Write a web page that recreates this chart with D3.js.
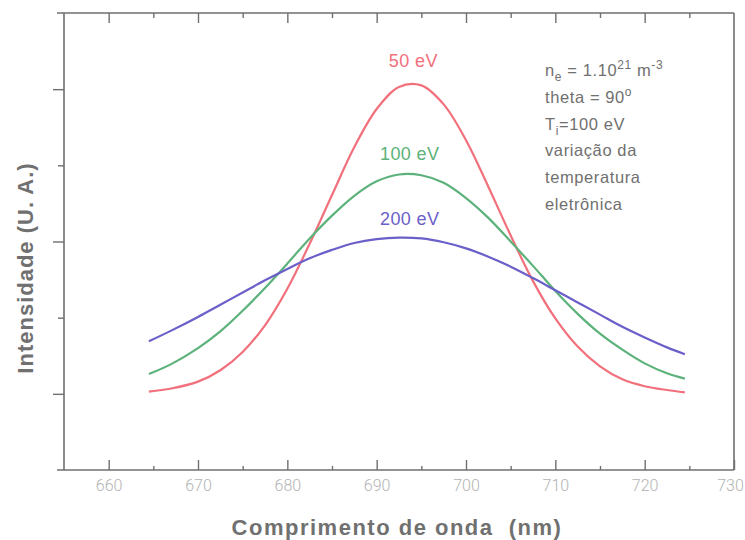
<!DOCTYPE html>
<html>
<head>
<meta charset="utf-8">
<script src="https://cdn.jsdelivr.net/npm/d3@7"></script>
<style>
  html, body { margin: 0; padding: 0; background: #fff; }
  svg { display: block; }
</style>
</head>
<body>
<svg id="chart" width="745" height="540"></svg>
<script>
// ---- data ----
const wavelength = [664.5, 667, 670, 672.5, 675, 677.5, 680, 682.5, 685, 687.5, 690, 692.5, 695,
                    697.5, 700, 702.5, 705, 707.5, 710, 712.5, 715, 717.5, 720, 722.5, 724.5];
const te50  = [1.03, 1.07, 1.16, 1.31, 1.55, 1.90, 2.38, 2.97, 3.61, 4.24, 4.74, 5.03, 5.05,
               4.80, 4.33, 3.72, 3.08, 2.48, 1.99, 1.62, 1.36, 1.19, 1.10, 1.05, 1.02];
const te100 = [1.26, 1.39, 1.60, 1.82, 2.09, 2.39, 2.71, 3.04, 3.34, 3.60, 3.79, 3.88, 3.87,
               3.77, 3.57, 3.31, 3.00, 2.68, 2.35, 2.05, 1.79, 1.58, 1.40, 1.27, 1.20];
const te200 = [1.69, 1.83, 2.01, 2.17, 2.33, 2.49, 2.64, 2.78, 2.89, 2.98, 3.03, 3.05, 3.04,
               2.99, 2.91, 2.80, 2.67, 2.52, 2.36, 2.20, 2.04, 1.88, 1.74, 1.61, 1.52];
const seriesNames = ["50 eV", "100 eV", "200 eV"];
const xMajorTicks = [660, 670, 680, 690, 700, 710, 720, 730];
const xMinorTicks = [665, 675, 685, 695, 705, 715, 725];
const yMajorTicks = [1, 3, 5];
const yMinorTicks = [2, 4];
const xDomain = [655, 730];
const yDomain = [0, 6];
const noteLines = ["variação da", "temperatura", "eletrônica"];

// ---- layout ----
const svg = d3.select("#chart");
const L = 64, R = 734, T = 13, B = 470;
const x = d3.scaleLinear().domain(xDomain).range([L, R]);
const y = d3.scaleLinear().domain(yDomain).range([B, T]);
const axisColor = "#6f6f6f";
const colors = ["#f2707c", "#5cb27a", "#6b5fc9"];

// frame
const frame = svg.append("g").attr("stroke", axisColor).attr("stroke-width", 1.6).attr("fill", "none");
frame.append("line").attr("x1", x.range()[0] - 7).attr("x2", x.range()[1]).attr("y1", y.range()[0]).attr("y2", y.range()[0]);
frame.append("line").attr("x1", x.range()[0] - 7).attr("x2", x.range()[1]).attr("y1", y.range()[1]).attr("y2", y.range()[1]);
frame.append("line").attr("x1", x.range()[0]).attr("x2", x.range()[0]).attr("y1", y.range()[0]).attr("y2", y.range()[1]);
frame.append("line").attr("x1", x.range()[1]).attr("x2", x.range()[1]).attr("y1", y.range()[0]).attr("y2", y.range()[1]);

function styleAxis(g) {
  g.select(".domain").remove();
  g.selectAll(".tick line").attr("stroke", axisColor).attr("stroke-width", 1.4);
}

// bottom axis (ticks inward)
svg.append("g").attr("transform", `translate(0,${B})`)
  .call(d3.axisBottom(x).tickValues(xMajorTicks).tickSizeInner(-10).tickSizeOuter(0).tickPadding(10).tickFormat(d3.format("d")))
  .call(styleAxis)
  .call(g => g.selectAll(".tick text")
    .attr("fill", "#b3b3b3").attr("font-family", "Roboto, 'Liberation Sans', sans-serif")
    .attr("font-weight", 300).attr("font-size", 16)
    .attr("dx", d => d === xDomain[1] ? -4 : 0));
svg.append("g").attr("transform", `translate(0,${B})`)
  .call(d3.axisBottom(x).tickValues(xMinorTicks).tickSizeInner(-4).tickSizeOuter(0).tickFormat(""))
  .call(styleAxis);

// top axis (ticks inward)
svg.append("g").attr("transform", `translate(0,${T})`)
  .call(d3.axisTop(x).tickValues(xMajorTicks.filter(d => d < 730)).tickSizeInner(-10).tickSizeOuter(0).tickFormat(""))
  .call(styleAxis);
svg.append("g").attr("transform", `translate(0,${T})`)
  .call(d3.axisTop(x).tickValues(xMinorTicks).tickSizeInner(-5).tickSizeOuter(0).tickFormat(""))
  .call(styleAxis);

// left axis (ticks outward, no labels)
svg.append("g").attr("transform", `translate(${L},0)`)
  .call(d3.axisLeft(y).tickValues(yMajorTicks).tickSizeInner(11).tickSizeOuter(0).tickFormat(""))
  .call(styleAxis);
svg.append("g").attr("transform", `translate(${L},0)`)
  .call(d3.axisLeft(y).tickValues(yMinorTicks).tickSizeInner(6).tickSizeOuter(0).tickFormat(""))
  .call(styleAxis);

// curves
const series = [te50, te100, te200];
const line = d3.line().x((d, i) => x(wavelength[i])).y(d => y(d)).curve(d3.curveCatmullRom);
series.forEach((s, k) => {
  svg.append("path").datum(s).attr("d", line)
    .attr("fill", "none").attr("stroke", colors[k]).attr("stroke-width", 2.2);
});

// series labels above each peak
const labelPos = [[694.1, 5.29], [693.7, 4.07], [693.7, 3.22]];
seriesNames.forEach((name, k) => {
  svg.append("text").attr("x", x(labelPos[k][0])).attr("y", y(labelPos[k][1]))
    .attr("text-anchor", "middle").attr("fill", colors[k])
    .attr("font-family", "'Liberation Sans', Arial, sans-serif").attr("font-size", 18)
    .attr("letter-spacing", 0.4)
    .text(name);
});

// annotation block
const noteX = 545, noteY0 = 76, noteDy = 26.8;
const noteFont = "'Liberation Sans', Arial, sans-serif";
const noteColor = "#707070";
function noteText(i) {
  return svg.append("text").attr("x", noteX).attr("y", noteY0 + i * noteDy)
    .attr("fill", noteColor).attr("font-family", noteFont).attr("font-size", 16.5).attr("letter-spacing", 0.6);
}
let t = noteText(0);
t.append("tspan").text("n");
t.append("tspan").attr("font-size", 12).attr("dy", 5).text("e");
t.append("tspan").attr("dy", -5).text(" = 1.10");
t.append("tspan").attr("font-size", 12).attr("dy", -7).text("21");
t.append("tspan").attr("dy", 7).text(" m");
t.append("tspan").attr("font-size", 12).attr("dy", -7).text("-3");
t = noteText(1);
t.append("tspan").text("theta = 90");
t.append("tspan").attr("font-size", 12).attr("dy", -7).text("o");
t = noteText(2);
t.append("tspan").text("T");
t.append("tspan").attr("font-size", 12).attr("dy", 5).text("i");
t.append("tspan").attr("dy", -5).text("=100 eV");
noteLines.forEach((s, i) => noteText(3 + i).text(s));

// axis titles
svg.append("text").attr("x", 397).attr("y", 535).attr("text-anchor", "middle")
  .attr("fill", "#707070").attr("font-family", "'Liberation Sans', Arial, sans-serif")
  .attr("font-weight", "bold").attr("font-size", 22).attr("letter-spacing", 1.5)
  .attr("xml:space", "preserve").style("white-space", "pre")
  .text("Comprimento de onda  (nm)");
svg.append("text").attr("transform", "translate(33,268) rotate(-90)").attr("text-anchor", "middle")
  .attr("fill", "#707070").attr("font-family", "'Liberation Sans', Arial, sans-serif")
  .attr("font-weight", "bold").attr("font-size", 22).attr("letter-spacing", 1.0)
  .text("Intensidade (U. A.)");
</script>
</body>
</html>
